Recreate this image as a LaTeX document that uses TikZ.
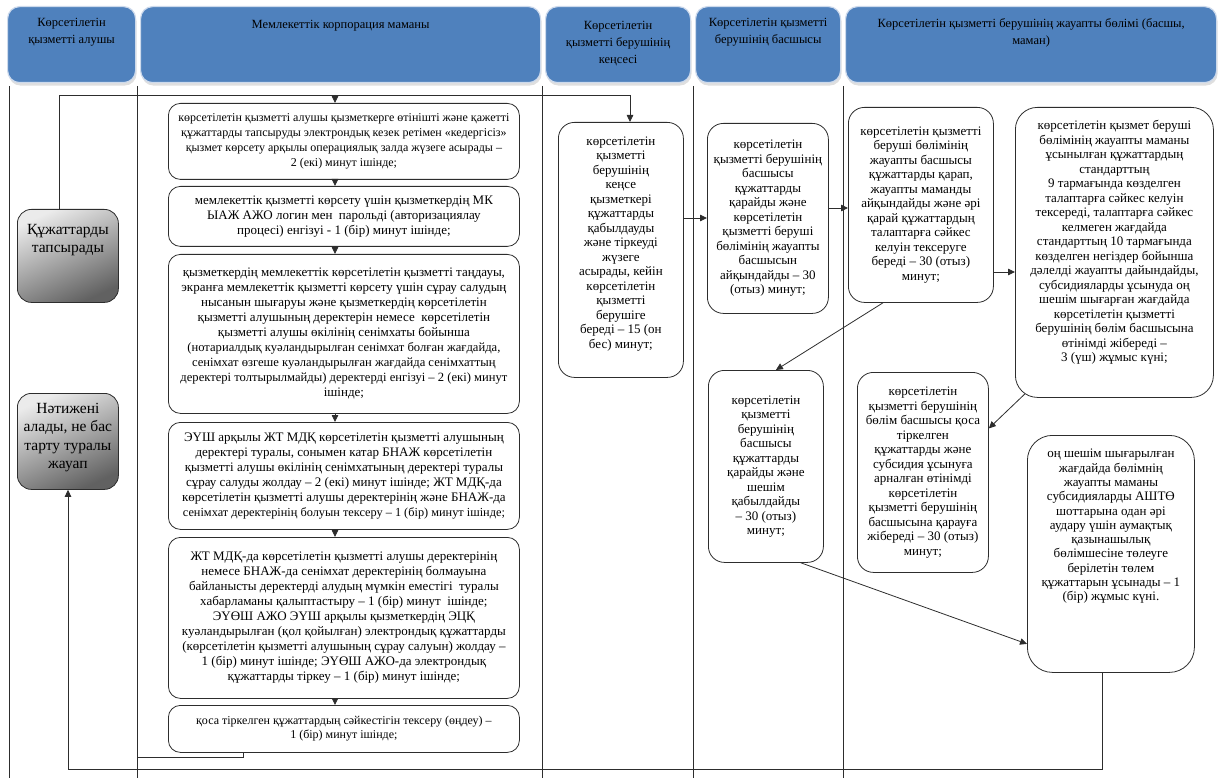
\documentclass[tikz,border=0pt]{standalone}
\usepackage{fontspec}
\setmainfont{Liberation Serif}
\usetikzlibrary{arrows.meta,shadows}
\definecolor{hdrfill}{RGB}{79,129,189}
\definecolor{hdrrim}{RGB}{205,218,236}
\definecolor{lc}{RGB}{45,45,45}
\begin{document}
\begin{tikzpicture}[x=1pt,y=-1pt,
  hdr/.style={draw=hdrrim, line width=1.2pt, fill=hdrfill,
    rounded corners=12pt, anchor=north west, inner sep=0pt,
    drop shadow={shadow xshift=1pt,shadow yshift=-3pt,opacity=0.25}},
  hdrtxt/.style={anchor=north, align=center, inner sep=0pt, font=\fontsize{12.5}{17}\selectfont},
  mbox/.style={draw=lc, line width=0.8pt, rounded corners=12pt, align=center, anchor=north west,
    inner sep=2pt, font=\fontsize{13}{15}\selectfont},
  rbox/.style={draw=lc, line width=0.8pt, rounded corners=16pt, align=center, anchor=north west,
    inner sep=2pt, font=\fontsize{13}{14.5}\selectfont},
  gbox/.style={draw=lc, line width=0.8pt, rounded corners=14pt, anchor=north west, inner sep=0pt,
    top color=black!8, bottom color=black!62, shading angle=25},
  gtxt/.style={anchor=north, align=center, inner sep=0pt, font=\fontsize{15.5}{18.5}\selectfont},
  ln/.style={draw=lc, line width=0.8pt},
  arr/.style={draw=lc, line width=0.8pt, -{Triangle[length=7pt,width=6.5pt]}},
  col/.style={draw=lc, line width=0.7pt}
]
\useasboundingbox (0,0) rectangle (1221,778);

% column lines
\draw[col] (9,86) -- (9,778);
\draw[col] (137,86) -- (137,778);
\draw[col] (542,86) -- (542,778);
\draw[col] (693,86) -- (693,778);
\draw[col] (843,86) -- (843,778);

% headers
\node[hdr, minimum width=128pt, minimum height=76pt] (h1) at (7,6) {};
\node[hdr, minimum width=400pt, minimum height=76pt] (h2) at (140,6) {};
\node[hdr, minimum width=145pt, minimum height=76pt] (h3) at (545,6) {};
\node[hdr, minimum width=145pt, minimum height=76pt] (h4) at (695,6) {};
\node[hdr, minimum width=371pt, minimum height=76pt] (h5) at (845,6) {};
\node[hdrtxt] (h1t) at ([yshift=-12pt]h1.north) {Көрсетілетін\\қызметті алушы};
\node[hdrtxt] (h2t) at ([yshift=-14pt]h2.north) {Мемлекеттік корпорация маманы};
\node[hdrtxt] (h3t) at ([yshift=-15pt]h3.north) {Көрсетілетін\\қызметті берушінің\\кеңсесі};
\node[hdrtxt] (h4t) at ([yshift=-12pt]h4.north) {Көрсетілетін қызметті\\берушінің басшысы};
\node[hdrtxt] (h5t) at ([yshift=-12pt]h5.north) {Көрсетілетін қызметті берушінің жауапты бөлімі (басшы,\\маман)};

% left column
\node[gbox, minimum width=101pt, minimum height=93pt] (LB1) at (17,209) {};
\node[gtxt] (LB1t) at ([yshift=-15pt]LB1.north) {Құжаттарды\\тапсырады};
\node[gbox, minimum width=101pt, minimum height=96pt] (LB2) at (17,393) {};
\node[gtxt] (LB2t) at ([yshift=-10pt]LB2.north) {Нәтижені\\алады, не бас\\тарту туралы\\жауап};

% middle column
\node[mbox, font=\fontsize{12}{15}\selectfont, minimum width=351pt, minimum height=76pt] (B1) at (168,103)
 {көрсетілетін қызметті алушы қызметкерге өтінішті және қажетті\\құжаттарды тапсыруды электрондық кезек ретімен «кедергісіз»\\қызмет көрсету арқылы операциялық залда жүзеге асырады –\\2 (екі) минут ішінде;};
\node[mbox, minimum width=351pt, minimum height=60pt] (B2) at (168,186)
 {мемлекеттік қызметті көрсету үшін қызметкердің МК\\ЫАЖ АЖО логин мен~ парольді (авторизациялау\\процесі) енгізуі - 1 (бір) минут ішінде;};
\node[mbox, minimum width=351pt, minimum height=159pt] (B3) at (168,254)
 {қызметкердің мемлекеттік көрсетілетін қызметті таңдауы,\\экранға мемлекеттік қызметті көрсету үшін сұрау салудың\\нысанын шығаруы және қызметкердің көрсетілетін\\қызметті алушының деректерін немесе~ көрсетілетін\\қызметті алушы өкілінің сенімхаты бойынша\\{\fontsize{12.6}{15}\selectfont(нотариалдық куәландырылған сенімхат болған жағдайда,}\\{\fontsize{12.6}{15}\selectfont сенімхат өзгеше куәландырылған жағдайда сенімхаттың}\\{\fontsize{12.6}{15}\selectfont деректері толтырылмайды) деректерді енгізуі – 2 (екі) минут}\\ішінде;};
\node[mbox, minimum width=351pt, minimum height=107pt] (B4) at (168,422)
 {ЭҮШ арқылы ЖТ МДҚ көрсетілетін қызметті алушының\\деректері туралы, сонымен катар БНАЖ көрсетілетін\\қызметті алушы өкілінің сенімхатының деректері туралы\\сұрау салуды жолдау – 2 (екі) минут ішінде; ЖТ МДҚ-да\\көрсетілетін қызметті алушы деректерінің және БНАЖ-да\\{\fontsize{12.3}{15}\selectfont сенімхат деректерінің болуын тексеру – 1 (бір) минут ішінде;}};
\node[mbox, minimum width=351pt, minimum height=161pt] (B5) at (168,537)
 {ЖТ МДҚ-да көрсетілетін қызметті алушы деректерінің\\немесе БНАЖ-да сенімхат деректерінің болмауына\\байланысты деректерді алудың мүмкін еместігі~ туралы\\хабарламаны қалыптастыру – 1 (бір) минут~ ішінде;\\ЭҮӨШ АЖО ЭҮШ арқылы қызметкердің ЭЦҚ\\куәландырылған (қол қойылған) электрондық құжаттарды\\(көрсетілетін қызметті алушының сұрау салуын) жолдау –\\1 (бір) минут ішінде; ЭҮӨШ АЖО-да электрондық\\құжаттарды тіркеу – 1 (бір) минут ішінде;};
\node[mbox, font=\fontsize{12}{14}\selectfont, minimum width=351pt, minimum height=47pt] (B6) at (168,705)
 {қоса тіркелген құжаттардың сәйкестігін тексеру (өңдеу) –\\1 (бір) минут ішінде;};

% office column
\node[rbox, minimum width=125pt, minimum height=255pt] (O1) at (558,122)
 {көрсетілетін\\қызметті\\берушінің\\кеңсе\\қызметкері\\құжаттарды\\қабылдауды\\және тіркеуді\\жүзеге\\асырады, кейін\\көрсетілетін\\қызметті\\берушіге\\береді – 15 (он\\бес) минут;\\[-4pt]\strut};

% head column
\node[rbox, minimum width=121pt, minimum height=190pt] (D1) at (707,123)
 {көрсетілетін\\қызметті берушінің\\басшысы\\құжаттарды\\қарайды және\\көрсетілетін\\қызметті беруші\\бөлімінің жауапты\\басшысын\\айқындайды – 30\\(отыз) минут;};
\node[rbox, minimum width=115pt, minimum height=192pt] (D2) at (708,370)
 {көрсетілетін\\қызметті\\берушінің\\басшысы\\құжаттарды\\қарайды және\\шешім\\қабылдайды\\– 30 (отыз)\\минут;};

% responsible department column
\node[rbox, minimum width=145pt, minimum height=195pt] (R1) at (848,107)
 {көрсетілетін қызметті\\беруші бөлімінің\\жауапты басшысы\\құжаттарды қарап,\\жауапты маманды\\айқындайды және әрі\\қарай құжаттардың\\талаптарға сәйкес\\келуін тексеруге\\береді – 30 (отыз)\\минут;};
\node[rbox, rounded corners=22pt, minimum width=198pt, minimum height=290pt] (R2) at (1015,107)
 {көрсетілетін қызмет беруші\\бөлімінің жауапты маманы\\ұсынылған құжаттардың\\стандарттың\\9 тармағында көзделген\\талаптарға сәйкес келуін\\тексереді, талаптарға сәйкес\\келмеген жағдайда\\стандарттың 10 тармағында\\көзделген негіздер бойынша\\дәлелді жауапты дайындайды,\\субсидияларды ұсынуда оң\\шешім шығарған жағдайда\\көрсетілетін қызметті\\берушінің бөлім басшысына\\өтінімді жібереді –\\3 (үш) жұмыс күні;\\[4pt]\strut};
\node[rbox, minimum width=131pt, minimum height=200pt] (R3) at (857,372)
 {көрсетілетін\\қызметті берушінің\\бөлім басшысы қоса\\тіркелген\\құжаттарды және\\субсидия ұсынуға\\арналған өтінімді\\көрсетілетін\\қызметті берушінің\\басшысына қарауға\\жібереді – 30 (отыз)\\минут;};
\node[rbox, rounded corners=25pt, minimum width=167pt, minimum height=237pt] (F) at (1027,435) {};
\node[anchor=north, align=center, inner sep=0pt, font=\fontsize{13}{14.3}\selectfont] (Ft) at ([yshift=-14pt]F.north)
 {оң шешім шығарылған\\жағдайда бөлімнің\\жауапты маманы\\субсидияларды АШТӨ\\шоттарына одан әрі\\аудару үшін аумақтық\\қазынашылық\\бөлімшесіне төлеуге\\берілетін төлем\\құжаттарын ұсынады – 1\\(бір) жұмыс күні.};

% helper coordinates
\coordinate (tl) at (59,95);
\coordinate (tm) at (335,95);
\coordinate (tr) at (630,95);
\coordinate (a1) at (0,218);
\coordinate (a2) at (0,208);
\coordinate (a3) at (0,272);
\coordinate (bl) at (68,769);
\coordinate (br) at (1102,769);
\coordinate (b6a) at (243,757);
\coordinate (b6b) at (137,757);

% connectors
\draw[ln] (LB1.north -| tl) -- (tl) -- (tr);
\draw[arr] (tr) -- (tr |- O1.north);
\draw[arr] (tm) -- (tm |- B1.north);
\draw[arr] (B1.south -| tm) -- (B2.north -| tm);
\draw[arr] (B2.south -| tm) -- (B3.north -| tm);
\draw[arr] (B3.south -| tm) -- (B4.north -| tm);
\draw[arr] (B4.south -| tm) -- (B5.north -| tm);
\draw[arr] (B5.south -| tm) -- (B6.north -| tm);
\draw[ln] (B6.south -| b6a) -- (b6a) -- (b6b);
\draw[arr] (O1.east |- a1) -- (D1.west |- a1);
\draw[arr] (D1.east |- a2) -- (R1.west |- a2);
\draw[arr] (R1.east |- a3) -- (R2.west |- a3);
\draw[arr] ([xshift=35pt]R1.south west) -- ([xshift=10pt]D2.north);
\draw[arr] ([xshift=10pt,yshift=4pt]R2.south west) -- ([yshift=44pt]R3.east);
\draw[arr] ([xshift=-23pt]D2.south east) -- ([yshift=-90pt]F.west);
\draw[arr] (F.south -| br) -- (br) -- (bl) -- (bl |- LB2.south);
\end{tikzpicture}
\end{document}
